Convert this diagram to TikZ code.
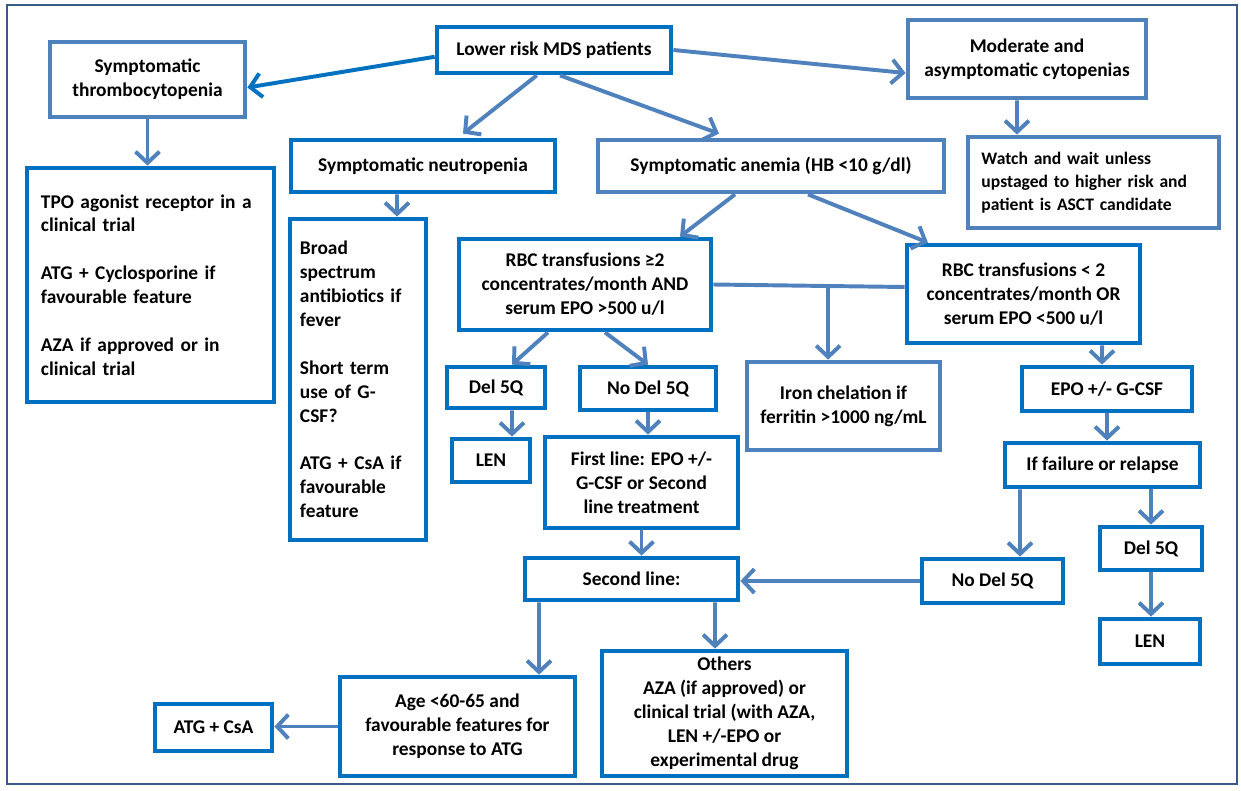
\documentclass[tikz,border=0pt]{standalone}
\usepackage{fontspec}
\setmainfont{Carlito}
\usepackage{tikz}
\usetikzlibrary{arrows.meta,calc}
\definecolor{framec}{HTML}{3A5A86}
\definecolor{deep}{HTML}{0070C0}
\definecolor{soft}{HTML}{4F81BD}

\begin{document}
\begin{tikzpicture}[x=0.025cm,y=-0.025cm,>={Straight Barb[length=8pt,width=17pt]},
  box/.style={draw=deep,line width=3.4pt,fill=white,align=center,inner sep=2pt,font=\fontsize{13.8}{17}\selectfont\bfseries},
  pale/.style={box,draw=soft},
  wh/.style 2 args={minimum width=#1*0.025cm,minimum height=#2*0.025cm},
  arr/.style={->,draw=soft,line width=2.8pt},
  link/.style={draw=soft,line width=2.8pt}]
\useasboundingbox (0,0) rectangle (1241,790);
\draw[framec,line width=2pt] (7,5) rectangle (1237,784);
\node[box,wh={234}{46}] (mds) at (554,50) {Lower risk MDS patients};
\node[pale,wh={195}{75}] (thrombo) at (147.5,79.5) {Symptomatic\\thrombocytopenia};
\node[pale,wh={238}{78}] (moderate) at (1027,59) {Moderate and\\asymptomatic cytopenias};
\node[box,wh={264}{52}] (neutro) at (423,166) {Symptomatic neutropenia};
\node[pale,wh={346}{52}] (anemia) at (771,166) {Symptomatic anemia (HB <10 g/dl)};
\node[pale,wh={251}{91},align=left,text width=5.6cm,inner xsep=0.3375cm,font=\fontsize{12.5}{16.5}\selectfont\bfseries] (watch) at (1093.5,182.5) {Watch and wait unless\\upstaged to higher risk and\\patient is ASCT candidate};
\node[box,wh={247}{234},align=left,text width=5.475cm,inner xsep=0.35cm] (tpo) at (150.5,285) {TPO agonist receptor in a\\clinical trial\\[17pt]ATG + Cyclosporine if\\favourable feature\\[17pt]AZA if approved or in\\clinical trial};
\node[box,wh={136}{321},align=left,text width=2.9cm,inner xsep=0.25cm] (broad) at (358,379.5) {Broad\\spectrum\\antibiotics if\\fever\\[17pt]Short term\\use of G-\\CSF?\\[17pt]ATG + CsA if\\favourable\\feature};
\node[box,wh={252}{91}] (rbcA) at (585,284.5) {RBC transfusions ≥2\\concentrates/month AND\\serum EPO >500 u/l};
\node[box,wh={233}{98}] (rbcB) at (1023.5,294) {RBC transfusions < 2\\concentrates/month OR\\serum EPO <500 u/l};
\node[box,wh={98}{41}] (delA) at (496,387.5) {Del 5Q};
\node[box,wh={136}{43}] (nodelA) at (648,388.5) {No Del 5Q};
\node[pale,wh={193}{88}] (iron) at (843.5,406) {Iron chelation if\\ferritin >1000 ng/mL};
\node[box,wh={170}{44}] (epo) at (1107,389) {EPO +/- G-CSF};
\node[box,wh={78}{43}] (lenA) at (491,460.5) {LEN};
\node[box,wh={193}{91}] (first) at (641.5,482.5) {First line: EPO +/-\\G-CSF or Second\\line treatment};
\node[box,wh={195}{44}] (fail) at (1102.5,465) {If failure or relapse};
\node[box,wh={102}{43}] (delB) at (1151,548.5) {Del 5Q};
\node[box,wh={213}{42}] (second) at (631.5,579) {Second line:};
\node[box,wh={141}{44}] (nodelB) at (992.5,581) {No Del 5Q};
\node[box,wh={100}{45}] (lenB) at (1150,641.5) {LEN};
\node[box,wh={235}{99}] (age) at (457.5,726.5) {Age <60-65 and\\favourable features for\\response to ATG};
\node[box,wh={245}{125}] (others) at (724.5,713.5) {Others\\AZA (if approved) or\\clinical trial (with AZA,\\LEN +/-EPO or\\experimental drug};
\node[box,wh={117}{47}] (atg) at (213.5,727.5) {ATG + CsA};
\draw[arr,draw=deep] ([yshift=-0.17cm]mds.west) -- ([yshift=-0.2cm]thrombo.east);
\draw[arr] (mds.east) -- ([yshift=-0.35cm]moderate.west);
\draw[arr] ([xshift=-0.43cm]mds.south) -- ([xshift=1cm,yshift=0.1cm]neutro.north);
\draw[arr] ([xshift=0.15cm]mds.south) -- ([xshift=-1.3cm,yshift=0.1cm]anemia.north);
\draw[arr] (thrombo.south) -- (thrombo.south |- tpo.north);
\draw[arr] ([xshift=-0.25cm]moderate.south) -- ([xshift=-1.9125cm]watch.north);
\draw[arr] ([xshift=-0.65cm]neutro.south) -- ([xshift=0.975cm]broad.north);
\draw[arr] ([xshift=-0.9cm]anemia.south) -- ([xshift=2.375cm]rbcA.north);
\draw[arr] ([xshift=0.925cm]anemia.south) -- ([xshift=-2.3875cm]rbcB.north);
\draw[link] (rbcA.east) -- ([yshift=0.175cm]rbcB.west);
\coordinate (split) at ($(rbcA.east)!0.6!([yshift=0.175cm]rbcB.west)$);
\draw[arr] (split) -- (split |- iron.north);
\draw[arr] ([xshift=-0.925cm]rbcA.south) -- ([xshift=0.4cm]delA.north);
\draw[arr] ([xshift=0.5cm]rbcA.south) -- (nodelA.north);
\draw[arr] ([xshift=0.4cm]delA.south) -- ([xshift=0.525cm]lenA.north);
\draw[arr] (nodelA.south) -- (nodelA.south |- first.north);
\draw[arr] ([xshift=1.9625cm]rbcB.south) -- ([xshift=-0.125cm]epo.north);
\draw[arr] (epo.south) -- (epo.south |- fail.north);
\draw[arr] ([xshift=-2.0625cm]fail.south) -- ([xshift=0.6875cm]nodelB.north);
\draw[arr] (delB.north |- fail.south) -- (delB.north);
\draw[arr] (delB.south) -- (delB.south |- lenB.north);
\draw[arr] (nodelB.west) -- (nodelB.west -| second.east);
\draw[arr] (first.south) -- (first.south |- second.north);
\draw[arr] ([xshift=-2.3125cm]second.south) -- ([xshift=2.0375cm]age.north);
\draw[arr] ([xshift=2.0875cm]second.south) -- ([xshift=-0.2375cm]others.north);
\draw[arr] (age.west) -- (age.west -| atg.east);
\end{tikzpicture}
\end{document}
